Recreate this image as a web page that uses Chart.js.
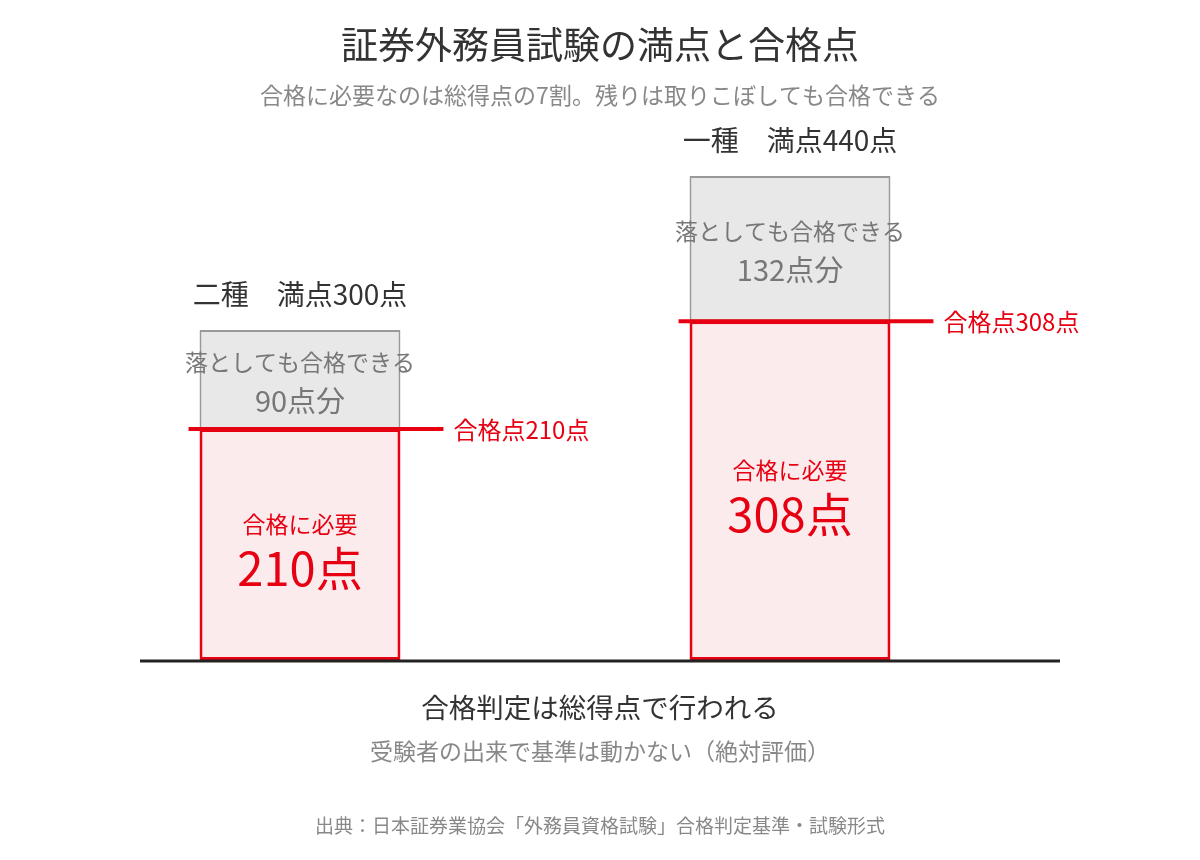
<!DOCTYPE html>
<html lang="ja">
<head>
<meta charset="utf-8">
<script src="https://cdn.jsdelivr.net/npm/chart.js@4/dist/chart.umd.min.js"></script>
<style>
  body { margin: 0; background: #fff; }
  canvas { display: block; }
</style>
</head>
<body>
<canvas id="chart" width="1200" height="860"></canvas>
<script>
const categories = ['二種', '一種'];
const fullScores = [300, 440];
const passScores = [210, 308];
const slackScores = [90, 132];

const FONT = '"Noto Sans CJK JP", "Noto Sans", sans-serif';
const RED = '#e60012';

// texts and pass lines drawn on top of the bars
const annotations = {
  id: 'annotations',
  afterDatasetsDraw(chart) {
    const ctx = chart.ctx;
    const y = chart.scales.y;
    const area = chart.chartArea;
    const passBars = chart.getDatasetMeta(0).data;

    ctx.save();
    ctx.textAlign = 'center';
    ctx.textBaseline = 'middle';

    categories.forEach((cat, i) => {
      const bar = passBars[i];
      const left = bar.x - bar.width / 2;
      const right = bar.x + bar.width / 2;
      const yFull = y.getPixelForValue(fullScores[i]);
      const yPass = y.getPixelForValue(passScores[i]);
      const yZero = y.getPixelForValue(0);

      // heading above the bar
      ctx.fillStyle = '#333';
      ctx.font = '28px ' + FONT;
      ctx.textAlign = 'center';
      ctx.fillText(cat + '\u3000満点' + fullScores[i] + '点', bar.x, yFull - 36);

      // slack text
      const midSlack = (yFull + yPass) / 2;
      ctx.fillStyle = '#777';
      ctx.font = '23px ' + FONT;
      ctx.fillText('落としても合格できる', bar.x, midSlack - 17);
      ctx.font = '29px ' + FONT;
      ctx.fillText(slackScores[i] + '点分', bar.x, midSlack + 21);

      // required text
      const midPass = (yPass + yZero) / 2;
      ctx.fillStyle = RED;
      ctx.font = '23px ' + FONT;
      ctx.fillText('合格に必要', bar.x, midPass - 20);
      ctx.font = '47px ' + FONT;
      ctx.fillText(passScores[i] + '点', bar.x, midPass + 24);

      // pass line
      ctx.strokeStyle = RED;
      ctx.lineWidth = 4;
      ctx.beginPath();
      ctx.moveTo(left - 11, yPass);
      ctx.lineTo(right + 43, yPass);
      ctx.stroke();
      ctx.textAlign = 'left';
      ctx.font = '24px ' + FONT;
      ctx.fillText('合格点' + passScores[i] + '点', right + 53, yPass + 1);
    });

    // baseline
    ctx.strokeStyle = '#222';
    ctx.lineWidth = 3;
    ctx.beginPath();
    ctx.moveTo(140, area.bottom + 1);
    ctx.lineTo(1060, area.bottom + 1);
    ctx.stroke();

    // titles and notes
    ctx.textAlign = 'center';
    ctx.fillStyle = '#333';
    ctx.font = '37px ' + FONT;
    ctx.fillText('証券外務員試験の満点と合格点', 600, 45);
    ctx.fillStyle = '#888';
    ctx.font = '23px ' + FONT;
    ctx.fillText('合格に必要なのは総得点の7割。残りは取りこぼしても合格できる', 600, 95);

    ctx.fillStyle = '#333';
    ctx.font = '27.5px ' + FONT;
    ctx.fillText('合格判定は総得点で行われる', 600, 708);
    ctx.fillStyle = '#888';
    ctx.font = '23px ' + FONT;
    ctx.fillText('受験者の出来で基準は動かない（絶対評価）', 600, 751);
    ctx.font = '19px ' + FONT;
    ctx.fillText('出典：日本証券業協会「外務員資格試験」合格判定基準・試験形式', 600, 826);
    ctx.restore();
  }
};

new Chart(document.getElementById('chart'), {
  type: 'bar',
  data: {
    labels: categories,
    datasets: [
      {
        label: '合格に必要',
        data: passScores,
        backgroundColor: '#fcebec',
        borderColor: RED,
        borderWidth: 3,
        borderSkipped: false
      },
      {
        label: '落としても合格できる',
        data: slackScores,
        backgroundColor: '#e8e8e8',
        borderColor: '#999',
        borderWidth: 2,
        borderSkipped: false
      }
    ]
  },
  options: {
    responsive: false,
    animation: false,
    layout: { padding: { left: 55, right: 165, top: 110, bottom: 200 } },
    datasets: { bar: { categoryPercentage: 1, barPercentage: 0.41 } },
    scales: {
      x: { stacked: true, display: false },
      y: { stacked: true, display: false, min: 0, max: 500 }
    },
    plugins: {
      legend: { display: false },
      tooltip: { enabled: false }
    }
  },
  plugins: [annotations]
});
</script>
</body>
</html>
